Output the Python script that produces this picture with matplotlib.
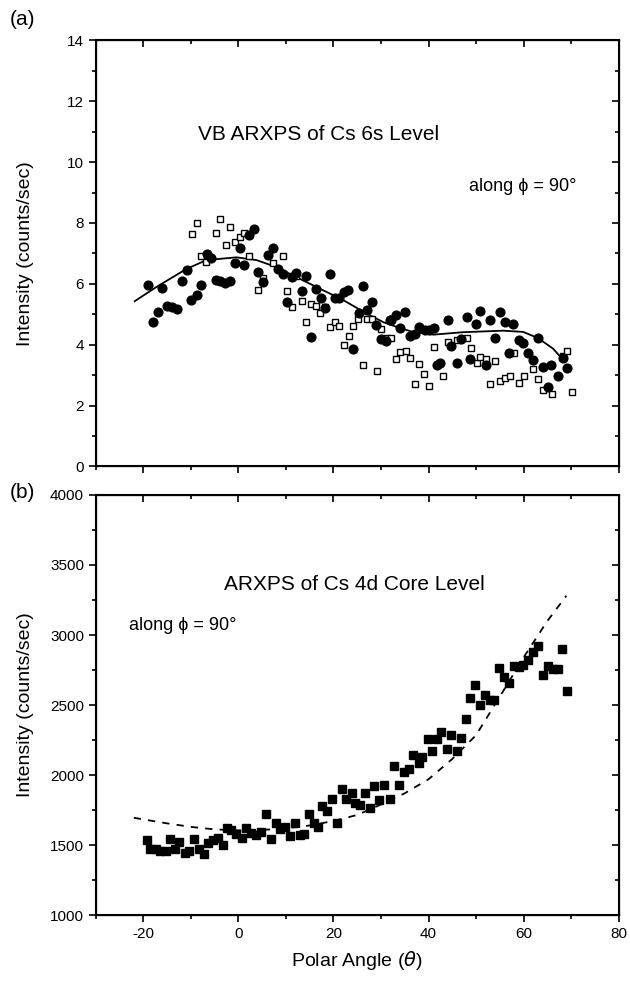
import numpy as np
import matplotlib
matplotlib.use("Agg")
import matplotlib.pyplot as plt
from matplotlib.ticker import MultipleLocator

plt.rcParams['font.family'] = ['Liberation Sans', 'DejaVu Sans']
plt.rcParams['mathtext.fontset'] = 'dejavusans'
plt.rcParams['axes.unicode_minus'] = False

# ---- panel (a): VB ARXPS of Cs 6s level ----
a_filled_x = [-19.0, -17.9, -16.9, -16.0, -15.0, -13.9, -12.9, -11.8, -10.9, -9.9, -8.8, -7.8,
              -6.7, -5.7, -4.8, -3.9, -2.9, -1.8, -0.8, 0.3, 1.1, 2.3, 3.2, 4.2, 5.2, 6.2, 7.2,
              8.4, 9.3, 10.3, 11.2, 12.2, 13.3, 14.2, 15.2, 16.3, 17.3, 18.2, 19.2, 20.3, 21.2,
              22.2, 23.1, 24.1, 25.4, 26.2, 27.1, 28.2, 29.0, 30.1, 31.1, 31.8,
              32.2, 33.1, 34.1, 35.0, 36.2, 37.1, 38.1, 39.2, 40.1, 41.1, 41.7, 42.5, 44.1, 44.8,
              46.0, 46.9, 48.0, 48.8, 49.9, 50.9, 52.0, 52.9, 53.9, 55.0, 56.0, 56.9, 57.8, 59.0,
              59.9, 60.9, 62.0, 63.0, 64.1, 65.1, 65.8, 67.2, 68.2, 69.1]
a_filled_y = [5.95, 4.74, 5.09, 5.86, 5.27, 5.23, 5.18, 6.09, 6.46, 5.47, 5.63, 5.97,
              6.98, 6.84, 6.11, 6.09, 6.03, 6.09, 6.68, 7.17, 6.63, 7.60, 7.81, 6.38, 6.06, 6.96, 7.19,
              6.49, 6.31, 5.41, 6.22, 6.35, 5.77, 6.27, 4.26, 5.84, 5.52, 5.20, 6.31, 5.52, 5.52,
              5.74, 5.79, 3.85, 5.03, 5.93, 5.14, 5.41, 4.66, 4.19, 4.12, 4.82,
              4.82, 4.98, 4.55, 5.07, 4.28, 4.36, 4.58, 4.49, 4.49, 4.55, 3.33, 3.41, 4.80, 3.95,
              3.41, 4.19, 4.90, 3.54, 4.69, 5.12, 3.33, 4.82, 4.22, 5.06, 4.73, 3.72, 4.69, 4.17,
              4.06, 3.74, 3.50, 4.22, 3.28, 2.60, 3.33, 2.96, 3.56, 3.24]

a_open_x = [-9.7, -8.8, -7.8, -6.9, -4.8, -3.8, -2.7, -1.8, -0.8, 0.3, 1.1, 2.3, 4.1, 5.2,
            7.2, 9.3, 10.2, 11.2, 12.2, 13.3, 14.2, 15.2, 16.3, 17.1, 18.2, 19.2, 20.3, 21.2,
            22.2, 23.3, 24.1, 25.2, 26.2, 27.1, 28.2, 29.2, 30.1, 31.1, 32.2, 33.2, 34.1, 35.2,
            36.2, 37.1, 38.1, 39.0, 40.1, 41.1, 43.1, 44.1, 45.9, 48.0, 49.0, 50.1, 50.9, 52.0,
            53.0, 53.9, 55.0, 56.0, 57.1, 58.0, 59.0, 60.0, 62.0, 63.0, 64.1, 66.0, 68.2, 69.1, 70.2]
a_open_y = [7.63, 8.00, 6.90, 6.73, 7.66, 8.14, 7.28, 7.87, 7.36, 7.55, 7.66, 6.93, 5.79, 6.20,
            6.67, 6.93, 5.77, 5.25, 6.25, 5.43, 4.76, 5.34, 5.28, 5.03, 5.25, 4.57, 4.74, 4.63,
            3.99, 4.27, 4.62, 4.84, 3.34, 4.86, 4.84, 3.14, 4.50, 4.22, 4.22, 3.54, 3.76, 3.78,
            3.55, 2.72, 3.37, 3.03, 2.64, 3.92, 2.97, 4.08, 4.15, 4.22, 3.88, 3.41, 3.61, 3.52,
            2.70, 3.47, 2.82, 2.89, 2.98, 3.74, 2.75, 2.98, 3.20, 2.86, 2.50, 2.38, 3.63, 3.79, 2.43]

a_fit_x = [-21.8, -17.2, -10.9, -6.7, -0.4, 3.8, 8.0, 12.2, 17.8, 22.0, 26.9, 30.5, 33.9,
           36.7, 41.0, 47.3, 55.7, 59.9, 63.0, 66.2, 68.2]
a_fit_y = [5.43, 5.90, 6.49, 6.78, 6.87, 6.78, 6.55, 6.22, 5.79, 5.47, 5.03, 4.74, 4.55,
           4.42, 4.33, 4.41, 4.46, 4.42, 4.22, 3.87, 3.52]

# ---- panel (b): ARXPS of Cs 4d core level ----
b_x = [-19.3, -18.5, -17.4, -16.4, -15.3, -14.3, -13.4, -12.5, -11.3, -10.4, -9.3, -8.3,
       -7.3, -6.4, -5.4, -4.3, -3.3, -2.4, -1.5, -0.5, 0.7, 1.7, 2.7, 3.7, 4.7, 5.8, 6.8,
       8.0, 8.7, 9.8, 10.9, 11.9, 12.9, 13.8, 14.8, 15.9, 16.8, 17.6, 18.7, 19.7, 20.8,
       21.8, 22.7, 23.8, 24.6, 25.6, 26.7, 27.7, 28.6, 29.6, 30.7,
       31.9, 32.8, 33.8, 34.9, 35.8, 36.8, 37.9, 38.7, 39.8, 40.8, 41.7, 42.7, 43.8, 44.8,
       45.9, 46.8, 47.9, 48.7, 49.8, 50.8, 51.9, 52.9, 53.8, 54.9, 55.9, 57.0, 57.9, 59.0,
       59.9, 61.0, 62.0, 63.1, 64.0, 65.1, 66.1, 67.2, 68.1, 69.1]
b_y = [1535, 1475, 1470, 1459, 1459, 1546, 1470, 1523, 1447, 1459, 1542, 1470,
       1435, 1513, 1537, 1554, 1501, 1625, 1606, 1582, 1554, 1625, 1589, 1573, 1596, 1720, 1542,
       1656, 1613, 1632, 1565, 1660, 1570, 1582, 1720, 1660, 1632, 1779, 1744, 1832, 1656,
       1898, 1827, 1874, 1803, 1786, 1870, 1767, 1922, 1822, 1929,
       1827, 2064, 1927, 2022, 2045, 2140, 2083, 2131, 2259, 2171, 2255, 2307, 2188, 2285,
       2171, 2266, 2402, 2552, 2642, 2497, 2575, 2535, 2535, 2765, 2701, 2658, 2777, 2772,
       2789, 2820, 2877, 2920, 2718, 2782, 2758, 2758, 2903, 2599]

b_fit_x = [-22, -15, -10, -5, 0, 5, 10, 15, 20, 25, 30, 35, 40, 45, 50, 55, 60, 65, 69]
b_fit_y = [1695, 1655, 1630, 1612, 1605, 1608, 1620, 1640, 1672, 1715, 1790, 1870, 1970,
           2115, 2285, 2560, 2840, 3100, 3280]


def style_axes(ax, ymin, ymax, ymajor, yminor, xlabels):
    ax.set_xlim(-30, 80)
    ax.set_ylim(ymin, ymax)
    ax.xaxis.set_major_locator(MultipleLocator(20))
    ax.xaxis.set_minor_locator(MultipleLocator(10))
    ax.yaxis.set_major_locator(MultipleLocator(ymajor))
    ax.yaxis.set_minor_locator(MultipleLocator(yminor))
    ax.tick_params(which='both', direction='out', labelsize=11, width=1.2)
    ax.tick_params(which='major', length=5)
    ax.tick_params(which='minor', length=3)
    if not xlabels:
        ax.tick_params(axis='x', labelbottom=False)
    for s in ax.spines.values():
        s.set_linewidth(1.5)
    # inward ticks on top and right
    tx = ax.twiny()
    tx.set_xlim(ax.get_xlim())
    tx.xaxis.set_major_locator(MultipleLocator(20))
    tx.xaxis.set_minor_locator(MultipleLocator(10))
    tx.tick_params(which='both', direction='in', labeltop=False, width=1.2)
    tx.tick_params(which='major', length=5)
    tx.tick_params(which='minor', length=3)
    ty = ax.twinx()
    ty.set_ylim(ax.get_ylim())
    ty.yaxis.set_major_locator(MultipleLocator(ymajor))
    ty.yaxis.set_minor_locator(MultipleLocator(yminor))
    ty.tick_params(which='both', direction='in', labelright=False, width=1.2)
    ty.tick_params(which='major', length=5)
    ty.tick_params(which='minor', length=3)


fig = plt.figure(figsize=(6.3, 9.84), dpi=100)
ax1 = fig.add_axes([0.152, 0.526, 0.830, 0.433])
ax2 = fig.add_axes([0.152, 0.070, 0.830, 0.427])

ax1.plot(a_fit_x, a_fit_y, color='black', lw=1.3)
ax1.plot(a_open_x, a_open_y, 's', ms=5, mfc='white', mec='black', mew=1.0)
ax1.plot(a_filled_x, a_filled_y, 'o', ms=6.3, color='black')
style_axes(ax1, 0, 14, 2, 1, False)
ax1.set_ylabel("Intensity (counts/sec)", fontsize=14)
ax1.yaxis.set_label_coords(-0.118, 0.5)
ax1.text(-8.5, 10.9, "VB ARXPS of Cs 6s Level", fontsize=15, va='center')
ax1.text(48.5, 9.2, "along \u03d5 = 90°", fontsize=13, va='center')

ax2.plot(b_fit_x, b_fit_y, color='black', lw=1.3, ls=(0, (4, 4)))
ax2.plot(b_x, b_y, 's', ms=5.2, color='black')
style_axes(ax2, 1000, 4000, 500, 250, True)
ax2.set_ylabel("Intensity (counts/sec)", fontsize=14)
ax2.yaxis.set_label_coords(-0.118, 0.5)
ax2.set_xlabel(r"Polar Angle ($\theta$)", fontsize=14, labelpad=6)
ax2.text(-3, 3360, "ARXPS of Cs 4d Core Level", fontsize=15, va='center')
ax2.text(-23, 3070, "along \u03d5 = 90°", fontsize=13, va='center')

fig.text(0.015, 0.98, "(a)", fontsize=15, va='center')
fig.text(0.015, 0.499, "(b)", fontsize=15, va='center')

fig.savefig("out.png", dpi=100)
